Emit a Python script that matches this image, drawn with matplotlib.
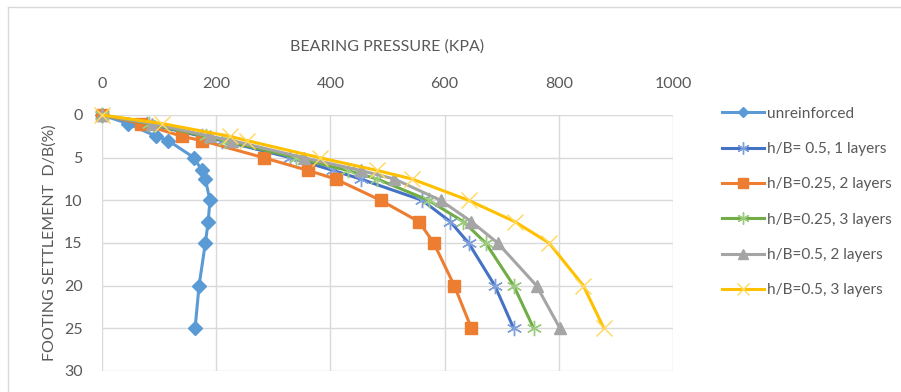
import matplotlib
matplotlib.use("Agg")
import matplotlib.pyplot as plt
from matplotlib.lines import Line2D

# settlement D/B (%) shared by all series
settlement = [0, 1, 2.5, 3, 5, 6.5, 7.5, 10, 12.5, 15, 20, 25]

# bearing pressure (kPa)
unreinforced = [0, 45, 95, 116, 161, 175, 181, 189, 186, 181, 170, 163]
hb05_1layer = [0, 78, 175, 210, 330, 405, 453, 561, 610, 642, 688, 721]
hb025_2layers = [0, 68, 140, 175, 283, 361, 409, 488, 555, 581, 617, 647]
hb025_3layers = [0, 82, 182, 216, 340, 430, 482, 572, 633, 672, 721, 756]
hb05_2layers = [0, 88, 190, 228, 353, 453, 512, 593, 647, 693, 761, 802]
hb05_3layers = [0, 105, 224, 254, 381, 482, 543, 642, 723, 783, 843, 879]

labels = ["unreinforced", "h/B= 0.5, 1 layers", "h/B=0.25, 2 layers",
          "h/B=0.25, 3 layers", "h/B=0.5, 2 layers", "h/B=0.5, 3 layers"]
x_ticks = [0, 200, 400, 600, 800, 1000]
y_ticks = [0, 5, 10, 15, 20, 25, 30]

plt.rcParams['font.family'] = ['Lato', 'DejaVu Sans']
text_color = "#595959"

fig = plt.figure(figsize=(9.01, 3.92), dpi=100)
ax = fig.add_axes([102 / 901, 1 - 371 / 392, 571 / 901, 256 / 392])

star = (6, 2, 0)
series = [
    (unreinforced, dict(color="#5B9BD5", marker="D", ms=7, mec="#5B9BD5")),
    (hb05_1layer, dict(color="#4472C4", marker=star, ms=11, mec="#7F9FDB", mew=1.0)),
    (hb025_2layers, dict(color="#ED7D31", marker="s", ms=9, mec="#ED7D31")),
    (hb025_3layers, dict(color="#70AD47", marker=star, ms=11, mec="#9BCB7F", mew=1.0)),
    (hb05_2layers, dict(color="#A5A5A5", marker="^", ms=9, mec="#A5A5A5")),
    (hb05_3layers, dict(color="#FFC000", marker="x", ms=11, mec="#FFD85C", mew=1.0)),
]
for (vals, style), lab in zip(series, labels):
    ax.plot(vals, settlement, lw=2.2, label=lab, clip_on=False, **style)

ax.set_xlim(0, 1000)
ax.set_ylim(30, 0)
ax.set_xticks(x_ticks)
ax.set_yticks(y_ticks)
ax.xaxis.tick_top()
ax.xaxis.set_label_position("top")
ax.tick_params(axis="both", length=0, labelsize=11.5, labelcolor=text_color)
ax.tick_params(axis="x", pad=17)
ax.tick_params(axis="y", pad=14)
ax.grid(True, color="#D9D9D9", lw=1)
ax.set_axisbelow(True)
for s in ax.spines.values():
    s.set_visible(False)

ax.set_xlabel("BEARING PRESSURE (KPA)", fontsize=11.5, color=text_color, labelpad=19)
ax.set_ylabel("FOOTING SETTLEMENT  D/B(%)", fontsize=11.5, color=text_color, labelpad=5)

ax.legend(loc="upper left", bbox_to_anchor=(708 / 901, 1 - 93 / 392),
          bbox_transform=fig.transFigure, frameon=False, fontsize=11.1,
          labelcolor=text_color, handlelength=2.7, handletextpad=0.2,
          labelspacing=1.38, markerscale=0.8)

# chart area border (only top and left visible in the crop)
fig.add_artist(Line2D([8 / 901, 1], [1 - 7 / 392, 1 - 7 / 392],
                      transform=fig.transFigure, color="#D9D9D9", lw=1))
fig.add_artist(Line2D([8 / 901, 8 / 901], [0, 1 - 7 / 392],
                      transform=fig.transFigure, color="#D9D9D9", lw=1))

fig.savefig("out.png", dpi=100)
